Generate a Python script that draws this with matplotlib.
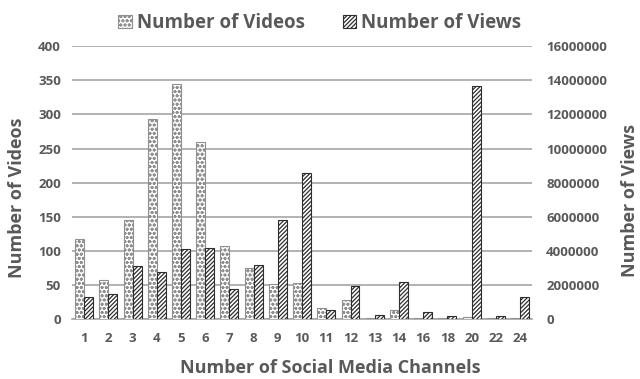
import matplotlib.pyplot as plt
import numpy as np

# channel counts and per-group totals
channels = ['1', '2', '3', '4', '5', '6', '7', '8', '9', '10', '11', '12',
            '13', '14', '16', '18', '20', '22', '24']
videos = [117, 57, 145, 294, 345, 259, 107, 75, 51, 53, 16, 28,
          1, 14, 1, 1, 3, 1, 1]
views = [1290000, 1470000, 3120000, 2750000, 4100000, 4160000, 1780000,
         3160000, 5800000, 8570000, 530000, 1950000, 230000, 2150000,
         430000, 180000, 13650000, 180000, 1310000]

txt = '#595959'
plt.rcParams['font.family'] = ['Open Sans', 'DejaVu Sans']
plt.rcParams['font.weight'] = 'bold'
plt.rcParams['hatch.linewidth'] = 0.9

fig = plt.figure(figsize=(6.4, 3.79), dpi=100)
ax = fig.add_axes([0.1125, 0.158, 0.719, 0.72])
ax2 = ax.twinx()

x = np.arange(len(channels))
w = 0.37
b1 = ax.bar(x - w / 2, videos, w, color='white', edgecolor='#909090',
            hatch='oooo', linewidth=0.8, label='Number of Videos', zorder=3)
b2 = ax2.bar(x + w / 2, views, w, color='white', edgecolor='#2e2e2e',
             hatch='////////', linewidth=0.8, label='Number of Views', zorder=3)

ax.set_ylim(0, 400)
ax.set_yticks(range(0, 401, 50))
ax2.set_ylim(0, 16000000)
ax2.set_yticks(range(0, 16000001, 2000000))
ax2.set_yticklabels([str(v) for v in range(0, 16000001, 2000000)])
ax.set_xlim(-0.5, len(channels) - 0.5)
ax.set_xticks(x)
ax.set_xticklabels(channels)

ax.yaxis.grid(True, color='#a6a6a6', linewidth=1.2, zorder=0)
ax.set_axisbelow(True)
for a in (ax, ax2):
    for s in a.spines.values():
        s.set_visible(False)
    a.tick_params(length=0, colors=txt, labelsize=9.5)
ax.spines['bottom'].set_visible(True)
ax.spines['bottom'].set_color('#a6a6a6')
ax.spines['bottom'].set_linewidth(1.2)
ax.tick_params(axis='x', pad=9)
ax.tick_params(axis='y', pad=8)
ax2.tick_params(axis='y', pad=10)

ax.set_xlabel('Number of Social Media Channels', fontsize=13, color=txt,
              fontweight='bold', va='center')
ax.xaxis.set_label_coords(0.561, -0.18)
ax.set_ylabel('Number of Videos', fontsize=13, color=txt, fontweight='bold',
              va='center')
ax.yaxis.set_label_coords(-0.12, 0.443)
ax2.set_ylabel('Number of Views', fontsize=13, color=txt, fontweight='bold',
               va='center')
ax2.yaxis.set_label_coords(1.213, 0.436)

fig.legend(handles=[b1, b2], loc='upper center', bbox_to_anchor=(0.5, 1.01),
           ncol=2, frameon=False, fontsize=13.5, labelcolor=txt,
           handlelength=0.7, handleheight=0.7, handletextpad=0.3,
           columnspacing=2.0)

fig.savefig('out.png', dpi=100)
